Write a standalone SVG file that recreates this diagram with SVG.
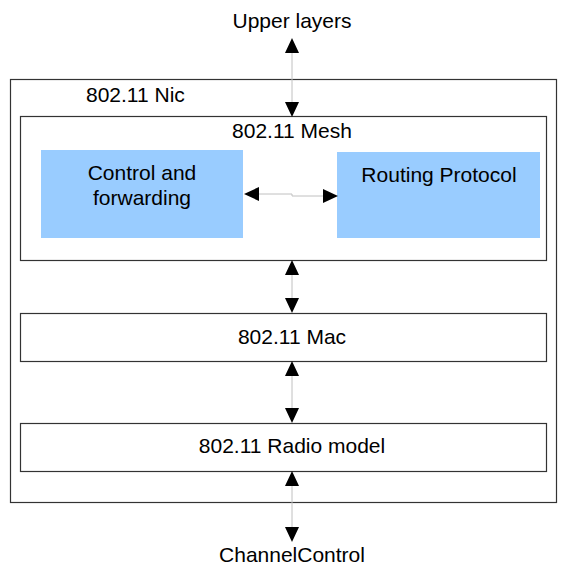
<svg xmlns="http://www.w3.org/2000/svg" width="567" height="565" viewBox="0 0 567 565">
<style>
.box{fill:#fff;stroke:#333;stroke-width:1.2}
.blue{fill:#99ccff;stroke:none}
.t{font-family:"Liberation Sans",Arial,sans-serif;font-size:21px;fill:#000}
.c{text-anchor:middle}
.ln{stroke:#c0c0c0;stroke-width:1;fill:none}
.ah{fill:#000}
</style>
<rect width="567" height="565" fill="#fff"/>
<g id="nic"><rect class="box" x="10.5" y="79.5" width="546" height="423"/><text class="t" x="86" y="102">802.11 Nic</text></g>
<g id="mesh"><rect class="box" x="20.5" y="116.5" width="526" height="144"/><text class="t c" x="292" y="138">802.11 Mesh</text></g>
<g id="control"><rect class="blue" x="41" y="150" width="202" height="88"/><text class="t c" x="142" y="180">Control and</text><text class="t c" x="142" y="205">forwarding</text></g>
<g id="routing"><rect class="blue" x="337" y="152" width="203" height="86"/><text class="t c" x="439" y="182">Routing Protocol</text></g>
<g id="mac"><rect class="box" x="20.5" y="313.5" width="526" height="48"/><text class="t c" x="292" y="344">802.11 Mac</text></g>
<g id="radio"><rect class="box" x="20.5" y="423.5" width="526" height="48"/><text class="t c" x="292" y="453">802.11 Radio model</text></g>
<g id="upper"><text class="t c" x="292" y="28">Upper layers</text></g>
<g id="channel"><text class="t c" x="292" y="562">ChannelControl</text></g>
<g id="connectors">
<path class="ln" d="M292 52V103"/><path class="ah" d="M292 38l-7 15h14z"/><path class="ah" d="M292 117l-7-15h14z"/>
<path class="ln" d="M257 194H292V196H325"/><path class="ah" d="M244 194l15-7v14z"/><path class="ah" d="M338 196l-15-7v14z"/>
<path class="ln" d="M292 274V299"/><path class="ah" d="M292 260l-7 15h14z"/><path class="ah" d="M292 313l-7-15h14z"/>
<path class="ln" d="M292 375V409"/><path class="ah" d="M292 361l-7 15h14z"/><path class="ah" d="M292 423l-7-15h14z"/>
<path class="ln" d="M292 484V529"/><path class="ah" d="M292 471l-7 15h14z"/><path class="ah" d="M292 542l-7-15h14z"/>
</g>
</svg>
